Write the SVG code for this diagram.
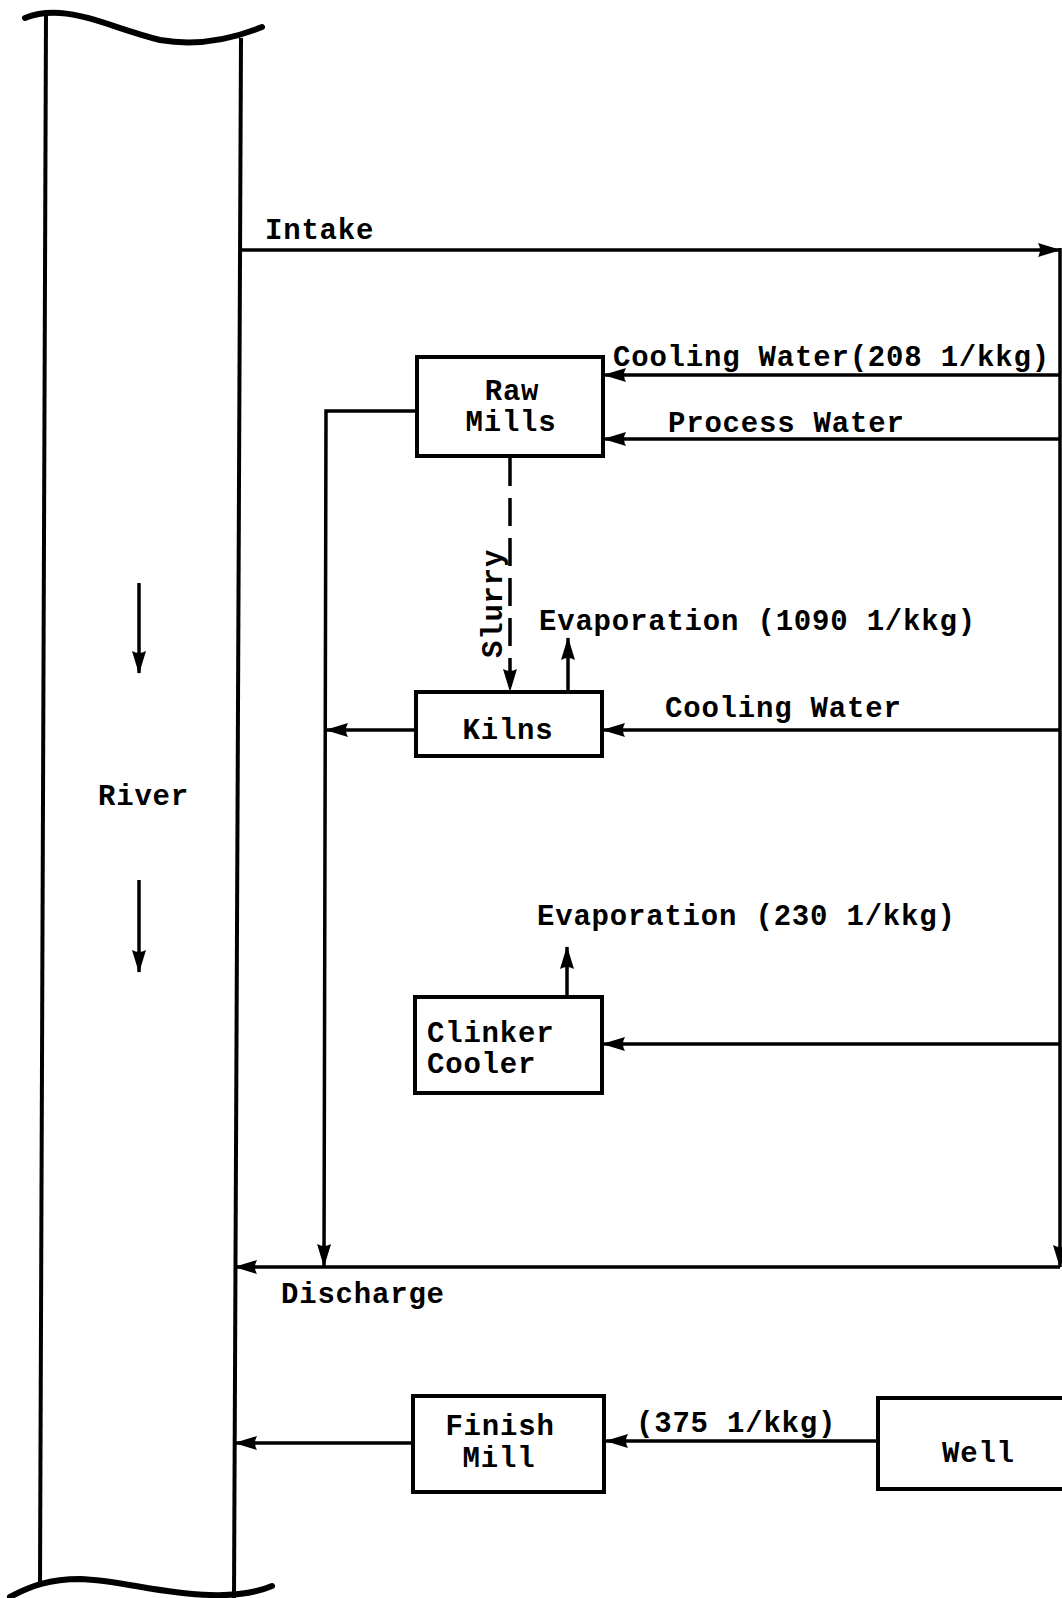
<svg xmlns="http://www.w3.org/2000/svg" width="1062" height="1598" viewBox="0 0 1062 1598">
<style>
  .ln { fill: none; stroke: #000; stroke-width: 3.5; stroke-linecap: butt; }
  .box { fill: #fff; stroke: #000; stroke-width: 4; }
  .river { fill: none; stroke: #000; stroke-width: 4; }
  .wave { fill: none; stroke: #000; stroke-width: 6; stroke-linecap: round; }
  .t { font-family: "Liberation Mono", "Courier New", monospace; font-weight: bold; font-size: 29px; letter-spacing: 0.8px; fill: #000; }
  .c { text-anchor: middle; }
</style>
<defs>
  <marker id="ah" markerUnits="userSpaceOnUse" markerWidth="26" markerHeight="18" refX="22" refY="8" orient="auto">
    <path d="M0,1 L23,8 L0,15 Q4,8 0,1 Z" fill="#000"/>
  </marker>
</defs>

<g id="river">
  <path class="wave" d="M25,18 C35,14 45,12 60,13 C90,15 120,30 160,40 C195,46 230,40 262,27"/>
  <line class="river" x1="46" y1="14" x2="40" y2="1585"/>
  <line class="river" x1="241" y1="38" x2="234" y2="1598"/>
  <path class="wave" d="M10,1597 C30,1586 50,1579 80,1579 C120,1580 160,1594 210,1595 C240,1596 258,1592 272,1586"/>
  <text class="t" x="98" y="805">River</text>
  <line class="ln" x1="139" y1="583" x2="139" y2="673" stroke-width="4" marker-end="url(#ah)"/>
  <line class="ln" x1="139" y1="880" x2="139" y2="972" stroke-width="4" marker-end="url(#ah)"/>
</g>

<g id="raw-mills">
  <rect class="box" x="417" y="357" width="186" height="99"/>
  <text class="t c" x="512" y="400">Raw</text>
  <text class="t c" x="511" y="431">Mills</text>
</g>

<g id="kilns">
  <rect class="box" x="416" y="692" width="186" height="64"/>
  <text class="t c" x="508" y="739">Kilns</text>
</g>

<g id="clinker-cooler">
  <rect class="box" x="415" y="997" width="187" height="96"/>
  <text class="t" x="427" y="1042">Clinker</text>
  <text class="t" x="427" y="1073">Cooler</text>
</g>

<g id="finish-mill">
  <rect class="box" x="413" y="1396" width="191" height="96"/>
  <text class="t c" x="500" y="1435">Finish</text>
  <text class="t c" x="499" y="1467">Mill</text>
</g>

<g id="well">
  <rect class="box" x="878" y="1398" width="200" height="91"/>
  <text class="t" x="942" y="1462">Well</text>
</g>

<g id="connectors">
  <line class="ln" x1="240" y1="250" x2="1060" y2="250" marker-end="url(#ah)"/>
  <line class="ln" x1="1060" y1="248" x2="1060" y2="1267" marker-end="url(#ah)"/>
  <line class="ln" x1="1060" y1="375" x2="604" y2="375" marker-end="url(#ah)"/>
  <line class="ln" x1="1060" y1="439" x2="604" y2="439" marker-end="url(#ah)"/>
  <line class="ln" x1="1060" y1="730" x2="603" y2="730" marker-end="url(#ah)"/>
  <line class="ln" x1="1060" y1="1044" x2="603" y2="1044" marker-end="url(#ah)"/>
  <polyline class="ln" points="417,411 326,411 324,1266" marker-end="url(#ah)"/>
  <line class="ln" x1="416" y1="730" x2="326" y2="730" marker-end="url(#ah)"/>
  <line class="ln" x1="510" y1="458" x2="510" y2="691" stroke-dasharray="28 12" marker-end="url(#ah)"/>
  <line class="ln" x1="568" y1="692" x2="568" y2="638" marker-end="url(#ah)"/>
  <line class="ln" x1="567" y1="997" x2="567" y2="947" marker-end="url(#ah)"/>
  <line class="ln" x1="1060" y1="1267" x2="235" y2="1267" marker-end="url(#ah)"/>
  <line class="ln" x1="878" y1="1441" x2="606" y2="1441" marker-end="url(#ah)"/>
  <line class="ln" x1="413" y1="1443" x2="235" y2="1443" marker-end="url(#ah)"/>
</g>

<g id="labels">
  <text class="t" x="265" y="239">Intake</text>
  <text class="t" x="613" y="366">Cooling Water(208 1/kkg)</text>
  <text class="t" x="668" y="432">Process Water</text>
  <text class="t" transform="translate(502,658) rotate(-90)">Slurry</text>
  <text class="t" x="539" y="630">Evaporation (1090 1/kkg)</text>
  <text class="t" x="665" y="717">Cooling Water</text>
  <text class="t" x="537" y="925">Evaporation (230 1/kkg)</text>
  <text class="t" x="281" y="1303">Discharge</text>
  <text class="t" x="636" y="1432">(375 1/kkg)</text>
</g>
</svg>
